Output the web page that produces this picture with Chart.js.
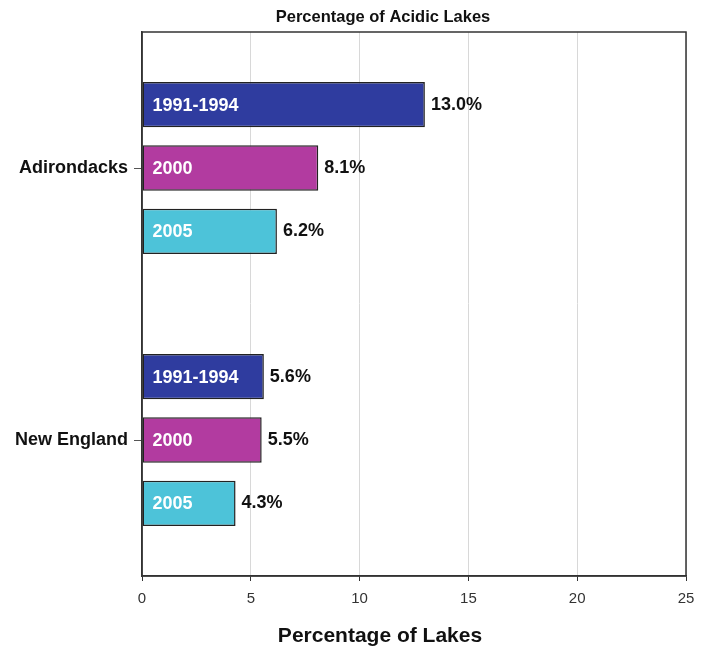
<!DOCTYPE html>
<html>
<head>
<meta charset="utf-8">
<script src="https://cdn.jsdelivr.net/npm/chart.js@4"></script>
<style>
  html, body { margin: 0; padding: 0; background: #fff; }
  #wrap { width: 711px; height: 648px; }
</style>
</head>
<body>
<div id="wrap"><canvas id="chart" width="711" height="648"></canvas></div>
<script>
const regions = ['Adirondacks', 'New England'];
const periods = ['1991-1994', '2000', '2005'];
const pct1991 = [13.0, 5.6];
const pct2000 = [8.1, 5.5];
const pct2005 = [6.2, 4.3];
const xTicks = [0, 5, 10, 15, 20, 25];

const COLORS = ['#2f3c9f', '#b23ba0', '#4dc3d9'];
const FONT = 'Liberation Sans, Arial, sans-serif';

/* bar names inside, values at the end, titles, box round the plot */
const barText = {
  id: 'barText',
  afterDatasetsDraw(chart) {
    const ctx = chart.ctx;
    ctx.save();
    ctx.font = 'bold 18px ' + FONT;
    ctx.textBaseline = 'middle';
    chart.data.datasets.forEach((ds, i) => {
      chart.getDatasetMeta(i).data.forEach((bar, j) => {
        ctx.fillStyle = '#fff';
        ctx.textAlign = 'left';
        ctx.fillText(ds.label, bar.base + 10, bar.y + 1);
        ctx.fillStyle = '#111';
        ctx.fillText(ds.data[j].toFixed(1) + '%', bar.x + 6, bar.y);
      });
    });
    const a = chart.chartArea;
    ctx.strokeStyle = '#333';
    ctx.lineWidth = 1.5;
    ctx.strokeRect(a.left, a.top, a.right - a.left, a.bottom - a.top);

    // titles sit a bit left of the plot centre in the original
    ctx.fillStyle = '#111';
    ctx.textAlign = 'center';
    ctx.font = 'bold 16.5px ' + FONT;
    ctx.fillText('Percentage of Acidic Lakes', 383, 17);
    ctx.font = 'bold 21px ' + FONT;
    ctx.fillText('Percentage of Lakes', 380, 636);
    ctx.restore();
  }
};

new Chart(document.getElementById('chart'), {
  type: 'bar',
  data: {
    labels: regions,
    datasets: [
      { label: periods[0], data: pct1991, backgroundColor: COLORS[0] },
      { label: periods[1], data: pct2000, backgroundColor: COLORS[1] },
      { label: periods[2], data: pct2005, backgroundColor: COLORS[2] },
    ].map(d => Object.assign(d, { borderColor: '#222', borderWidth: 1.5, borderSkipped: false }))
  },
  options: {
    indexAxis: 'y',
    responsive: false,
    animation: false,
    layout: { padding: { right: 25, left: 0, top: 32, bottom: 0 } },
    datasets: { bar: { categoryPercentage: 0.7, barPercentage: 0.714 } },
    plugins: {
      legend: { display: false },
      tooltip: { enabled: false },
      title: { display: false }
    },
    scales: {
      x: {
        min: 0, max: 25,
        afterBuildTicks: s => { s.ticks = xTicks.map(v => ({ value: v })); },
        grid: { color: '#d8d8d8', lineWidth: 1, tickColor: '#333', tickLength: 5 },
        border: { color: '#333', width: 1.5 },
        ticks: { color: '#333', font: { family: FONT, size: 15 }, padding: 9 },
        afterFit: s => { s.height = 72; }
      },
      y: {
        grid: { drawOnChartArea: false, offset: false, tickColor: '#555', tickLength: 8 },
        border: { color: '#333', width: 1.5 },
        ticks: { color: '#111', font: { family: FONT, size: 18, weight: 'bold' }, padding: 6 },
        afterFit: s => { s.width = 142; }
      }
    }
  },
  plugins: [barText]
});
</script>
</body>
</html>
